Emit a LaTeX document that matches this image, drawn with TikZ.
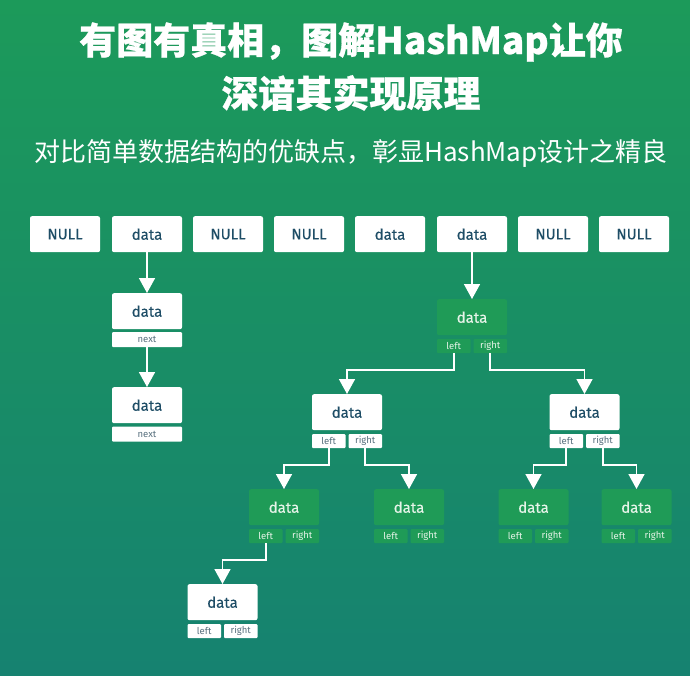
\documentclass[tikz,border=0pt]{standalone}
\usepackage{fontspec}
\usetikzlibrary{arrows.meta}
\newfontfamily\cjk{Noto Sans CJK SC}[BoldFeatures={FakeBold=0.6}]
\newfontfamily\lat{Fira Sans}
\newfontfamily\latm{Fira Sans}[FakeBold=0.3]
\definecolor{bgtop}{HTML}{1C9A5A}
\definecolor{bgmid}{HTML}{198E65}
\definecolor{bgbot}{HTML}{168270}
\definecolor{ngreen}{HTML}{1F9B57}
\definecolor{txt}{HTML}{1E4D66}
\definecolor{subtxt}{HTML}{58707E}
\definecolor{gtxt}{HTML}{E6F4E8}
\tikzset{
  wbox/.style={fill=white, rounded corners=2pt, text=txt, font=\latm\fontsize{15}{15}\selectfont,
    minimum width=70pt, minimum height=36pt, inner sep=0pt, anchor=north},
  gbox/.style={wbox, fill=ngreen, text=gtxt},
  wsub/.style={fill=white, rounded corners=1pt, text=subtxt, font=\lat\fontsize{9.5}{9.5}\selectfont,
    minimum width=33.5pt, minimum height=14pt, inner sep=0pt},
  gsub/.style={wsub, fill=ngreen, text=gtxt},
  nextbox/.style={wsub, minimum width=70pt, minimum height=15pt},
  arr/.style={draw=white, line width=1.6pt, -{Triangle[width=16pt,length=15pt]}},
}
\newcommand\treenode[4]{%
  \node[#4box] (#1) at (#2,#3) {data};
  \node[#4sub] (#1l) at ({#2-18.25},{#3+47}) {left};
  \node[#4sub] (#1r) at ({#2+18.25},{#3+47}) {right};
}
\begin{document}
\begin{tikzpicture}[x=1pt,y=-1pt]
\shade[top color=bgtop, bottom color=bgbot, middle color=bgmid] (0,0) rectangle (690,675);
\useasboundingbox (0,0) rectangle (690,675);
% titles
\node[text=white, font=\cjk\bfseries\fontsize{37}{37}\selectfont] (t1) at (351,42) {有图有真相，图解HashMap让你};
\node[text=white, font=\cjk\bfseries\fontsize{37}{37}\selectfont] (t2) at (351,93) {深谙其实现原理};
\node[text=white, font=\cjk\fontsize{26}{26}\selectfont] (t3) at (351,153) {对比简单数据结构的优缺点，彰显HashMap设计之精良};
% top row
\node[wbox] (b1) at (65,216) {NULL};
\node[wbox] (b2) at (147,216) {data};
\node[wbox] (b3) at (228,216) {NULL};
\node[wbox] (b4) at (309,216) {NULL};
\node[wbox] (b5) at (390,216) {data};
\node[wbox] (b6) at (472,216) {data};
\node[wbox] (b7) at (553,216) {NULL};
\node[wbox] (b8) at (634,216) {NULL};
% linked list
\node[wbox] (l1) at (147,293) {data};
\node[nextbox] (l1n) at (147,339.5) {next};
\node[wbox] (l2) at (147,387) {data};
\node[nextbox] (l2n) at (147,434) {next};
\draw[arr] (b2.south) -- (l1.north);
\draw[arr] (l1n.south) -- (l2.north);
% tree
\treenode{r}{472}{299}{g}
\treenode{a}{347}{394}{w}
\treenode{b}{584.5}{394}{w}
\treenode{c}{284}{489}{g}
\treenode{d}{409}{489}{g}
\treenode{e}{533.5}{489}{g}
\treenode{f}{636.5}{489}{g}
\treenode{g}{222.5}{584}{w}
\draw[arr] (b6.south) -- (r.north);
\draw[arr] (rl.south) -- ++(0,17) -| (a.north);
\draw[arr] (rr.south) -- ++(0,17) -| (b.north);
\draw[arr] (al.south) -- ++(0,17) -| (c.north);
\draw[arr] (ar.south) -- ++(0,17) -| (d.north);
\draw[arr] (bl.south) -- ++(0,17) -| (e.north);
\draw[arr] (br.south) -- ++(0,17) -| (f.north);
\draw[arr] (cl.south) -- ++(0,17) -| (g.north);
\end{tikzpicture}
\end{document}
